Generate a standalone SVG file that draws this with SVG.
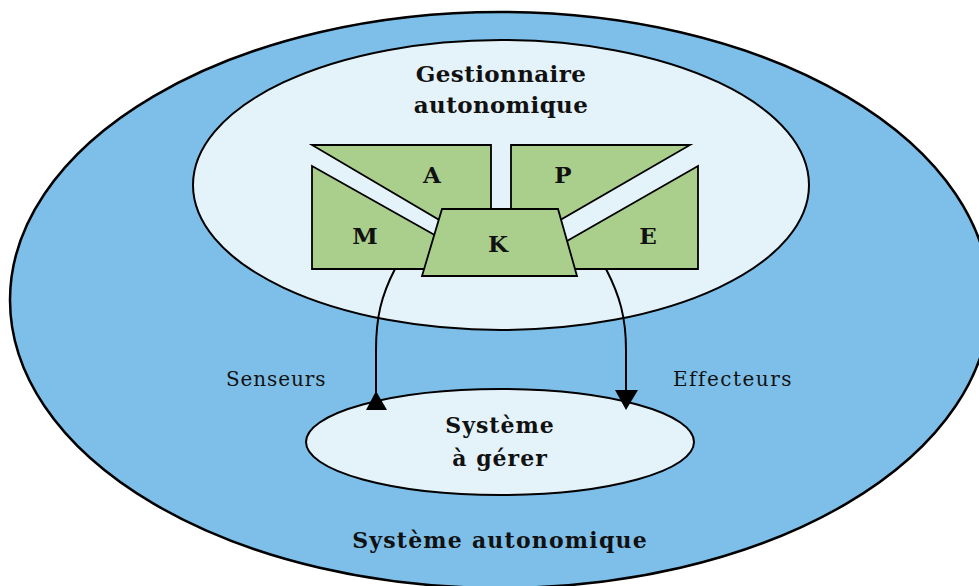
<svg xmlns="http://www.w3.org/2000/svg" width="979" height="586" viewBox="0 0 979 586">
<style>
.outer{fill:#7dbfe8;stroke:#000;stroke-width:2.5}
.inner{fill:#e4f2f9;stroke:#000;stroke-width:2}
.blk{fill:#aacf8c;stroke:#000;stroke-width:1.8;stroke-linejoin:miter}
.t{font-family:"DejaVu Serif","Liberation Serif",serif;font-weight:bold;fill:#111;text-anchor:middle}
.l{font-family:"DejaVu Serif","Liberation Serif",serif;fill:#111;font-size:20px}
.c{fill:none;stroke:#000;stroke-width:2}
</style>
<g id="systeme-autonomique">
<ellipse class="outer" cx="500" cy="300" rx="490" ry="288"/>
<text class="t" x="500" y="548" font-size="22" letter-spacing="1.2">Système autonomique</text>
</g>
<g id="gestionnaire">
<ellipse class="inner" cx="501" cy="185" rx="308" ry="145"/>
<text class="t" x="501" y="82" font-size="23" letter-spacing="0.4">Gestionnaire</text>
<text class="t" x="501" y="113" font-size="23" letter-spacing="0.4">autonomique</text>
</g>
<g id="A">
<polygon class="blk" points="312,145 491,145 491,238 470,238"/>
<text class="t" x="432" y="183" font-size="23">A</text>
</g>
<g id="P">
<polygon class="blk" points="511,145 690,145 529,238 511,238"/>
<text class="t" x="563" y="183" font-size="23">P</text>
</g>
<g id="M">
<polygon class="blk" points="312,166 440,238 440,269 312,269"/>
<text class="t" x="365" y="244" font-size="23">M</text>
</g>
<g id="E">
<polygon class="blk" points="698,166 698,269 560,269 560,245"/>
<text class="t" x="648" y="244" font-size="23">E</text>
</g>
<g id="K">
<polygon class="blk" points="442,209 558,209 577,276 422,276"/>
<text class="t" x="498" y="252" font-size="23">K</text>
</g>
<g id="systeme-a-gerer">
<ellipse class="inner" cx="500" cy="442" rx="194" ry="53"/>
<text class="t" x="500" y="433" font-size="22" letter-spacing="1">Système</text>
<text class="t" x="500" y="466" font-size="22" letter-spacing="1">à gérer</text>
</g>
<g id="connectors">
<path class="c" d="M395 269 C381 296 376 318 376 350 L376 395"/>
<polygon points="376,391 366,410 387,410" fill="#000"/>
<path class="c" d="M606 269 C620 296 626 318 626 350 L626 392"/>
<polygon points="615,390 638,390 626,410" fill="#000"/>
<text class="l" x="226" y="386" letter-spacing="0.9">Senseurs</text>
<text class="l" x="673" y="386" letter-spacing="1.5">Effecteurs</text>
</g>
</svg>
